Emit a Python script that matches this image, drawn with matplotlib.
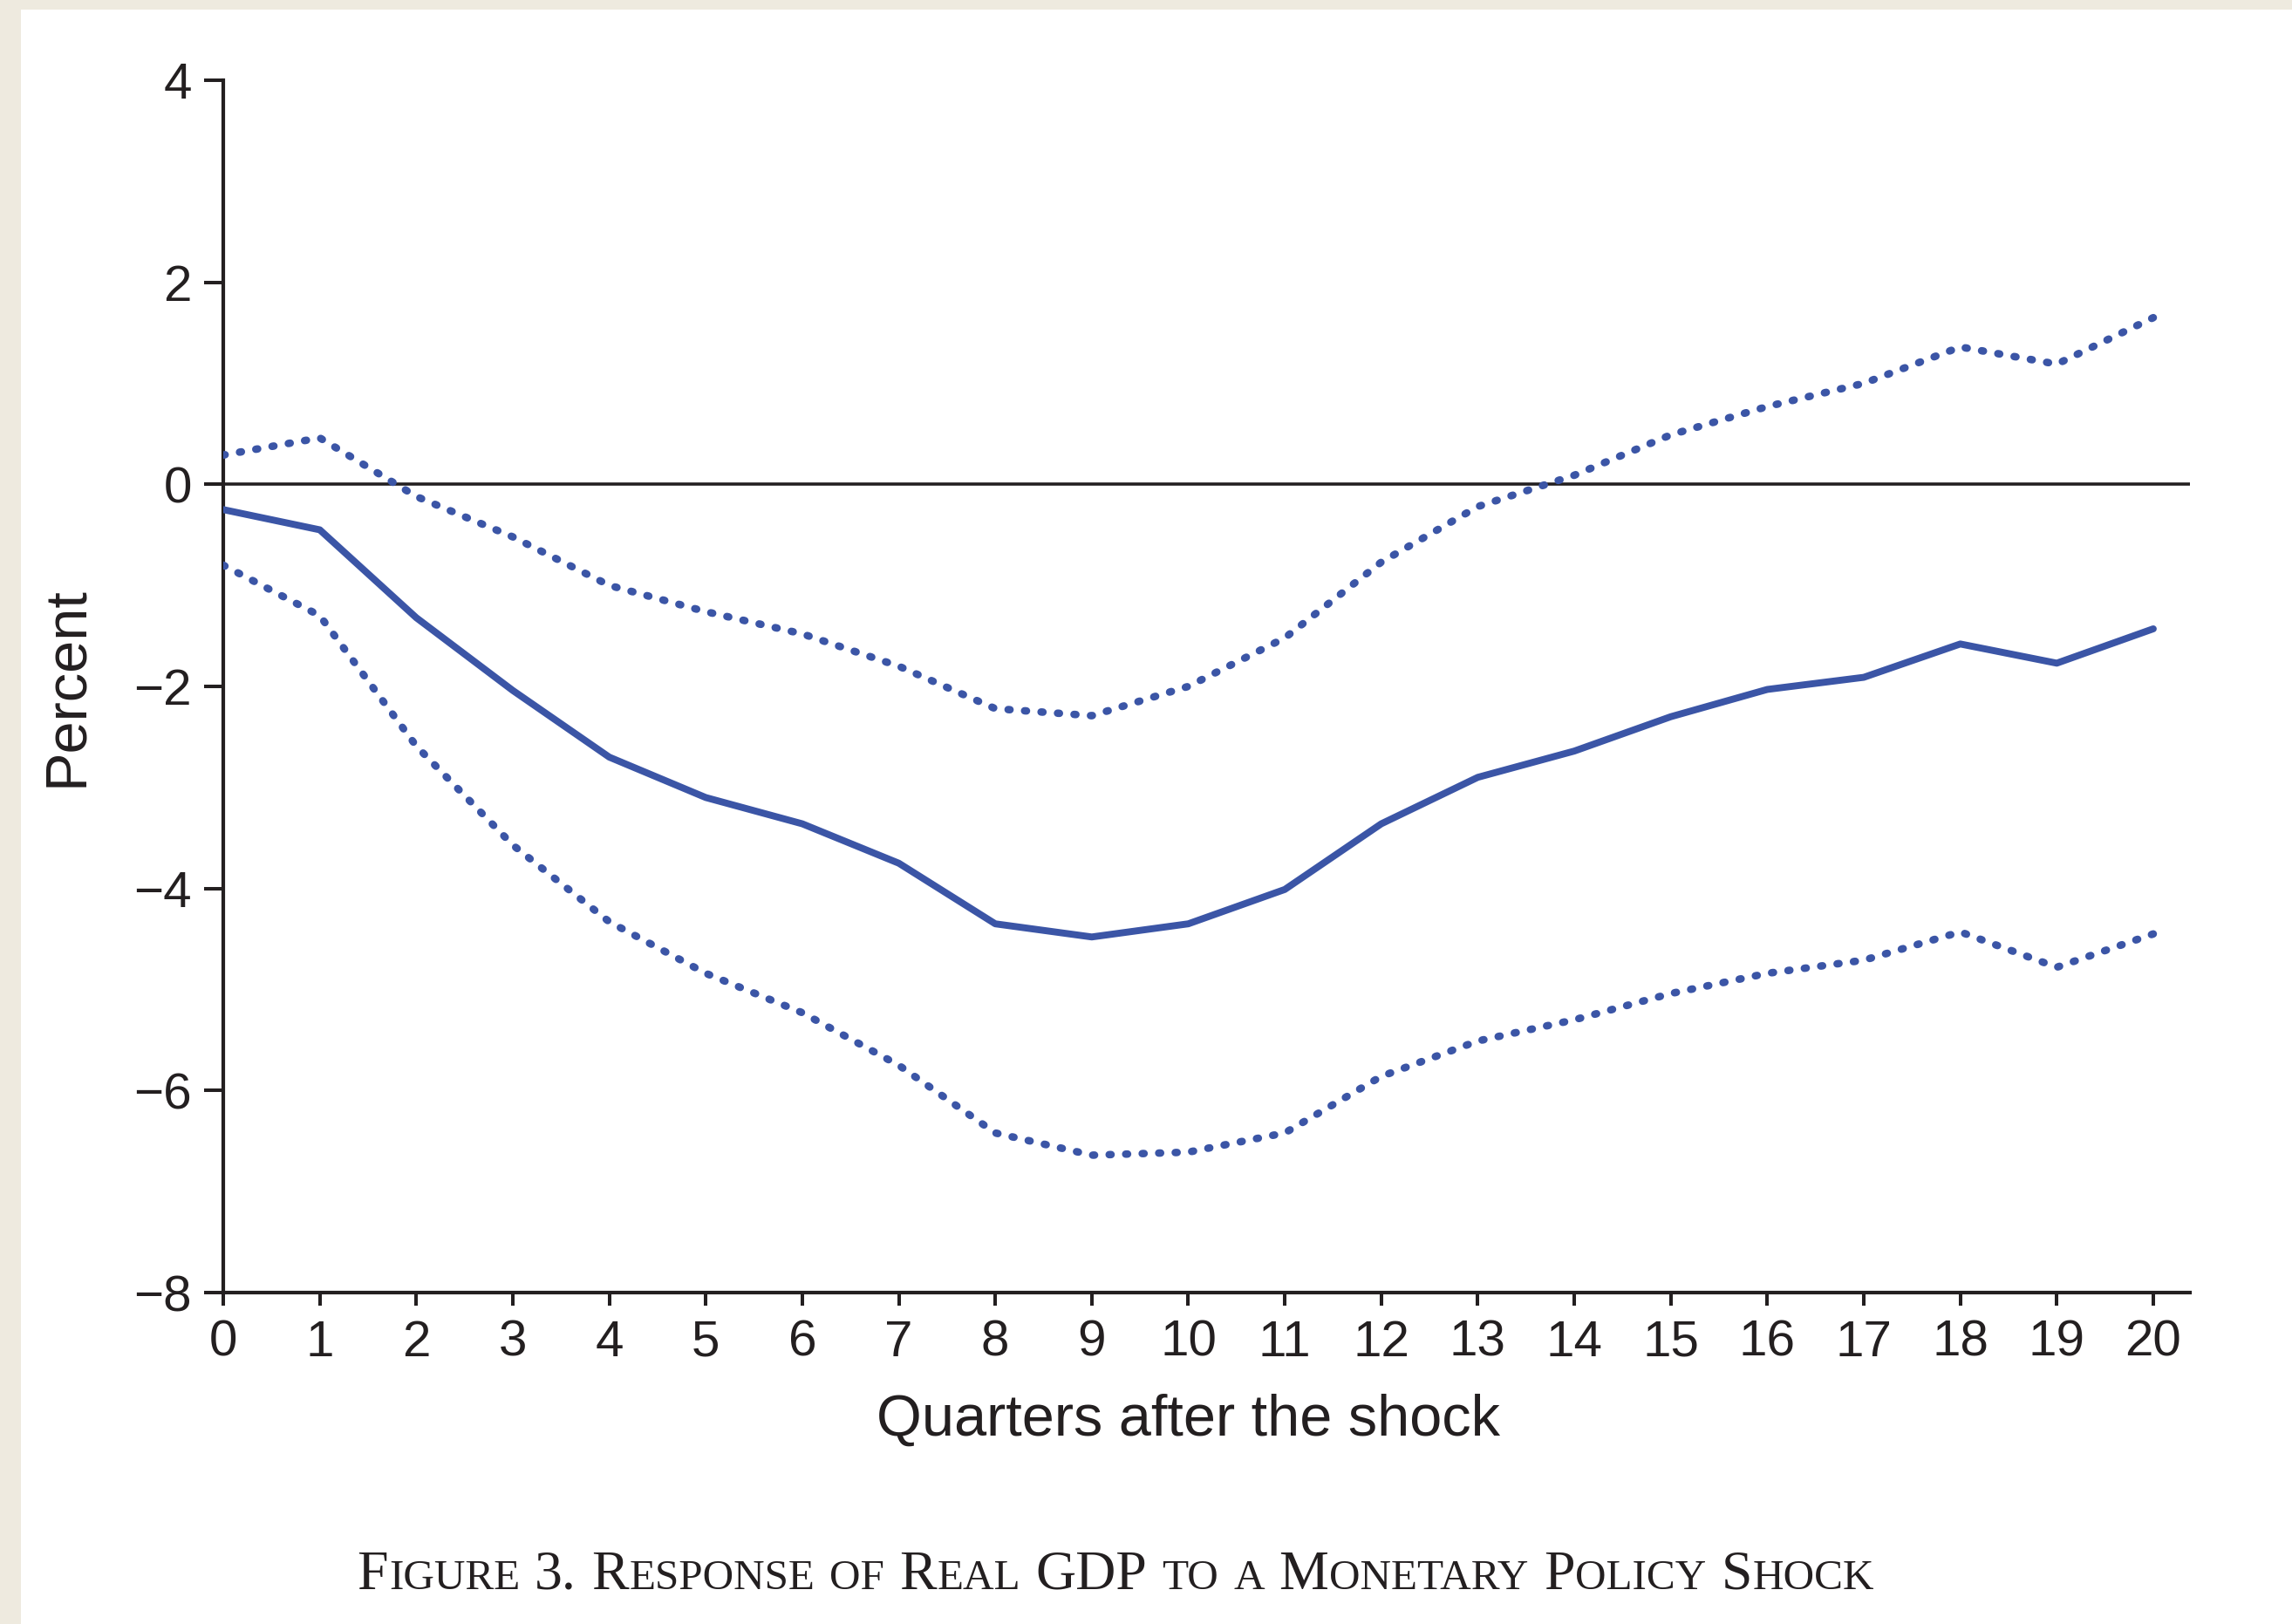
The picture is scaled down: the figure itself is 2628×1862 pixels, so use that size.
import matplotlib
matplotlib.use("Agg")
import matplotlib.pyplot as plt
from matplotlib.patches import Rectangle
from matplotlib.transforms import IdentityTransform

# Step 1: values (percent, quarters 0..20)
quarters = list(range(21))
response = [-0.25, -0.45, -1.32, -2.04, -2.70, -3.10, -3.36, -3.75, -4.35, -4.48,
            -4.35, -4.01, -3.36, -2.90, -2.64, -2.30, -2.03, -1.91, -1.58, -1.77, -1.43]
upper_band = [0.29, 0.46, -0.12, -0.52, -1.00, -1.26, -1.48, -1.80, -2.22, -2.29,
              -2.00, -1.52, -0.77, -0.22, 0.09, 0.49, 0.77, 1.00, 1.36, 1.19, 1.65]
lower_band = [-0.80, -1.30, -2.59, -3.57, -4.33, -4.84, -5.23, -5.75, -6.42, -6.64,
              -6.61, -6.42, -5.86, -5.51, -5.30, -5.04, -4.84, -4.71, -4.43, -4.78, -4.45]
y_ticks = [-8, -6, -4, -2, 0, 2, 4]
y_ticklabels = ["\u22128", "\u22126", "\u22124", "\u22122", "0", "2", "4"]
x_label = "Quarters after the shock"
y_label = "Percent"
caption = "Figure 3. Response of Real GDP to a Monetary Policy Shock"

BLUE = "#3B55A6"
INK = "#231F20"
BEIGE = "#EEEADF"

plt.rcParams["font.family"] = "Liberation Sans"

W, H = 2628, 1862
fig = plt.figure(figsize=(W / 100, H / 100), dpi=100, facecolor=BEIGE)
fig.patches.append(Rectangle((24 / W, 0), 1, 1 - 11 / H, transform=fig.transFigure,
                             facecolor="white", edgecolor="none", zorder=-10))

# Step 2: axes
ax = fig.add_axes([256 / W, 380 / H, (2511 - 256) / W, (1770 - 380) / H])
ax.patch.set_alpha(0)
ax.set_xlim(0, 20.38)
ax.set_ylim(-8, 4)

ax.axhline(0, color=INK, lw=2.6, zorder=2)
ax.plot(quarters, response, color=BLUE, lw=5.7, solid_capstyle="round",
        solid_joinstyle="round", zorder=3)
for band in (upper_band, lower_band):
    ax.plot(quarters, band, color=BLUE, lw=6.2, linestyle=(0, (0.25, 1.95)),
            dash_capstyle="round", zorder=3)

for side in ("top", "right"):
    ax.spines[side].set_visible(False)
for side in ("left", "bottom"):
    ax.spines[side].set_linewidth(3.0)
    ax.spines[side].set_color(INK)

ax.set_xticks(quarters)
ax.set_xticklabels([str(q) for q in quarters])
ax.set_yticks(y_ticks)
ax.set_yticklabels(y_ticklabels)
ax.tick_params(axis="x", direction="out", length=11, width=2.9, colors=INK,
               labelsize=42, pad=11)
ax.tick_params(axis="y", direction="out", length=16, width=2.9, colors=INK,
               labelsize=42, pad=10)

ax.set_xlabel(x_label, fontsize=48, color=INK)
ax.xaxis.set_label_coords(10 / 20.38, -0.0835)
ax.set_ylabel(y_label, fontsize=48, color=INK)
ax.yaxis.set_label_coords(-0.0655, 0.5)

# Step 3: small-caps caption, laid out run by run (pixel coords, y from bottom)
renderer = fig.canvas.get_renderer()
big, small = 46, 35.5
space_px = 0.25 * big * 100 / 72
baseline = H - 1822
texts = []
x = 0
for word in caption.split(" "):
    runs = []
    for ch in word:
        kind = "small" if ch.islower() else "big"
        if runs and runs[-1][1] == kind:
            runs[-1][0] += ch.upper()
        else:
            runs.append([ch.upper(), kind])
    for txt, kind in runs:
        t = fig.text(0, baseline, txt, fontsize=big if kind == "big" else small,
                     family="Liberation Serif", color=INK, va="baseline",
                     ha="left", transform=IdentityTransform())
        w = t.get_window_extent(renderer).width
        texts.append((t, x))
        x += w + 1
    x += space_px
total = x - space_px
start = 1280 - total / 2
for t, off in texts:
    t.set_x(start + off)

fig.savefig("out.png", dpi=100, facecolor=fig.get_facecolor())
